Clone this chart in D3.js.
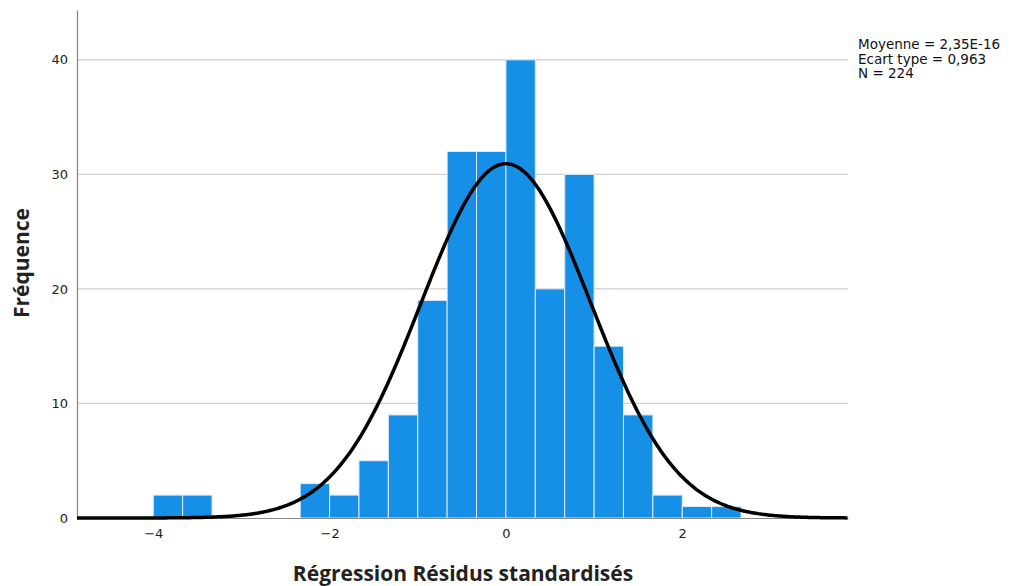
<!DOCTYPE html>
<html>
  <head>
    <meta charset="utf-8" />
    <title>Histogramme</title>
    <script src="https://d3js.org/d3.v7.min.js"></script>
    <style>
        body { margin:0; background:#fff; }
        text { font-family: "DejaVu Sans", sans-serif; }
    </style>
  </head>
  <body>
    <svg id="viz"></svg>
    <script>
    // bins of 1/3 standard unit, lower edges
    var binStarts = [-4, -11/3, -7/3, -2, -5/3, -4/3, -1, -2/3, -1/3, 0, 1/3, 2/3, 1, 4/3, 5/3, 2, 7/3];
    var counts    = [ 2,  2,     3,   2,  5,    9,    19, 32,   32,   40, 20,  30,  15, 9,   2,   1, 1];
    var binWidth = 1/3;
    var xTicks = [-4, -2, 0, 2];
    var yTicks = [0, 10, 20, 30, 40];
    var stats = ["Moyenne = 2,35E-16", "Ecart type = 0,963", "N = 224"];
    var mean = 0, sd = 0.963, n = 224;

    var width = 1015, height = 586;
    var svg = d3.select("#viz").attr("width", width).attr("height", height);

    var x = d3.scaleLinear().domain([-4.865, 3.88]).range([77, 848]);
    var y = d3.scaleLinear().domain([0, 44.35]).range([518, 10]);

    // gridlines
    svg.append("g").selectAll("line")
      .data(yTicks.filter(function(d){ return d > 0; }))
      .enter().append("line")
      .attr("x1", 77).attr("x2", 848)
      .attr("y1", function(d){ return y(d); })
      .attr("y2", function(d){ return y(d); })
      .attr("stroke", "#cfcfcf").attr("stroke-width", 1.2);

    // bars
    svg.append("g").selectAll("rect")
      .data(binStarts)
      .enter().append("rect")
      .attr("x", function(d){ return x(d); })
      .attr("width", function(d){ return x(d + binWidth) - x(d); })
      .attr("y", function(d, i){ return y(counts[i]); })
      .attr("height", function(d, i){ return y(0) - y(counts[i]); })
      .attr("fill", "#168fe6")
      .attr("stroke", "#dcecf8").attr("stroke-width", 1);

    // axes
    var xAxis = svg.append("g").attr("transform", "translate(0,518)")
      .call(d3.axisBottom(x).tickValues(xTicks).tickSize(0).tickPadding(11)
        .tickFormat(function(d){ return d3.format("d")(d).replace("-", "\u2212"); }));
    xAxis.select(".domain").attr("stroke", "#888");
    xAxis.selectAll("text").attr("font-size", 13).attr("fill", "#222")
      .style("font-family", "DejaVu Sans, sans-serif");

    var yAxis = svg.append("g").attr("transform", "translate(77,0)")
      .call(d3.axisLeft(y).tickValues(yTicks).tickSize(0).tickPadding(9));
    yAxis.select(".domain").attr("stroke", "#888").attr("stroke-width", 1.3);
    yAxis.selectAll("text").attr("font-size", 13).attr("fill", "#222")
      .style("font-family", "DejaVu Sans, sans-serif");

    // normal curve from the stated mean / sd
    var curveX = d3.range(-4.865, 3.885, 0.02);
    var line = d3.line()
      .x(function(d){ return x(d); })
      .y(function(d){
        var z = (d - mean) / sd;
        return y(n * binWidth * Math.exp(-0.5 * z * z) / (sd * Math.sqrt(2 * Math.PI)));
      })
      .curve(d3.curveBasis);
    svg.append("path").datum(curveX)
      .attr("d", line)
      .attr("fill", "none").attr("stroke", "#000").attr("stroke-width", 3.5);

    // stats box
    svg.append("g").selectAll("text")
      .data(stats)
      .enter().append("text")
      .attr("x", 858)
      .attr("y", function(d, i){ return 49 + i * 14.5; })
      .attr("font-size", 13.5).attr("fill", "#111")
      .text(function(d){ return d; });

    // titles
    svg.append("text")
      .attr("x", 463).attr("y", 581)
      .attr("text-anchor", "middle")
      .attr("font-size", 21).attr("font-weight", "bold").attr("fill", "#222")
      .style("font-family", "Open Sans, sans-serif")
      .text("Régression Résidus standardisés");

    svg.append("text")
      .attr("transform", "translate(29,263) rotate(-90)")
      .attr("text-anchor", "middle")
      .attr("font-size", 21).attr("font-weight", "bold").attr("fill", "#222")
      .style("font-family", "Open Sans, sans-serif")
      .text("Fréquence");
    </script>
  </body>
</html>
